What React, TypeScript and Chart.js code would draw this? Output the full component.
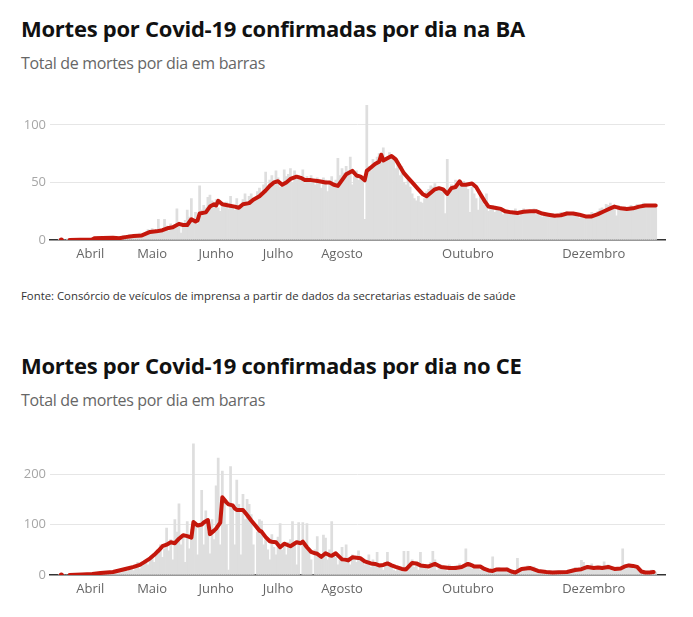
import { useEffect, useRef } from 'react'
import { Chart, registerables, ChartConfiguration } from 'chart.js'

Chart.register(...registerables)

// day index 0 = 27/03/2020, one category per day
const TOTAL_DAYS = 298
const FIRST_BAR_DAY = 4

const monthTickDays = [19, 49, 80, 110, 141, 202, 263]
const monthTickLabels = ['Abril', 'Maio', 'Junho', 'Julho', 'Agosto', 'Outubro', 'Dezembro']

// Bahia: daily deaths from day 4
const baDeaths = [
  1, 0, 0, 0, 1, 0,
  0, 1, 0, 1, 0, 0, 1, 0, 1, 1,
  2, 1, 2, 3, 1, 2, 2, 1, 3, 2,
  2, 3, 1, 2, 1, 4, 3, 2, 5, 4,
  3, 5, 4, 6, 5, 3, 7, 9, 8, 10,
  6, 9, 18, 8, 7, 18, 12, 8, 14, 10,
  13, 27, 15, 6, 12, 17, 26, 20, 36, 18,
  24, 14, 47, 26, 30, 28, 37, 39, 34, 30,
  35, 28, 25, 29, 30, 33, 27, 38, 30, 26,
  36, 28, 31, 35, 40, 33, 38, 40, 36, 34,
  42, 45, 40, 48, 59, 44, 52, 56, 48, 60,
  54, 46, 50, 61, 55, 57, 62, 50, 60, 53,
  56, 52, 61, 49, 55, 50, 56, 52, 48, 54,
  50, 45, 54, 52, 42, 50, 55, 46, 52, 71,
  56, 62, 58, 64, 60, 72, 48, 55, 60, 52,
  56, 52, 18, 117, 64, 60, 70, 66, 72, 75,
  73, 80, 68, 72, 76, 70, 72, 62, 68, 56,
  64, 50, 48, 52, 46, 40, 36, 34, 38, 33,
  32, 36, 42, 44, 47, 46, 49, 44, 46, 42,
  44, 23, 70, 42, 48, 46, 52, 48, 50, 47,
  51, 48, 44, 24, 46, 40, 36, 26, 38, 34,
  30, 40, 25, 28, 30, 24, 26, 28, 25, 22,
  24, 26, 23, 22, 25, 27, 24, 21, 23, 27,
  26, 24, 25, 23, 27, 22, 24, 21, 20, 23,
  22, 21, 20, 23, 22, 19, 21, 24, 22, 23,
  25, 22, 21, 23, 24, 20, 19, 22, 20, 21,
  19, 22, 24, 23, 22, 25, 27, 28, 26, 31,
  30, 32, 28, 29, 21, 30, 28, 26, 29, 27,
  28, 30, 27, 29, 31, 30, 28, 32, 30, 29,
  31, 30, 29, 30,
]

// Bahia: moving average, read at these days
const baAvgDays = [
  5, 6, 9, 14, 20, 21, 25, 30, 33, 36, 40, 44, 46, 48, 51, 54, 57, 59, 62, 64,
  66, 68, 70, 71, 72, 75, 77, 79, 80, 81, 83, 86, 89, 91, 93, 96, 98, 101, 104, 106,
  108, 110, 112, 114, 116, 119, 121, 123, 126, 130, 133, 135, 137, 139, 141, 143, 146, 148, 150, 152,
  153, 155, 157, 159, 160, 161, 163, 165, 167, 169, 171, 173, 175, 178, 180, 182, 184, 186, 188, 190,
  192, 194, 196, 198, 199, 201, 204, 206, 208, 210, 212, 215, 218, 220, 223, 226, 229, 232, 235, 238,
  241, 244, 247, 250, 253, 256, 259, 262, 265, 268, 271, 273, 276, 279, 282, 285, 288, 291, 293,
]
const baAvgValues = [
  0, null, 0, 0.3, 0.5, 1.5, 1.8, 2, 1.5, 2.5, 3.5, 4, 5.5, 7, 7.5, 8.5, 10.5, 11, 14, 13,
  13, 18, 16, 17, 23, 24, 29, 31, 30, 34, 31, 30, 29, 28, 31, 32, 35, 38, 43, 47,
  50, 51, 48, 50, 53, 55, 54, 52, 52, 51, 50, 50, 48, 47, 52, 57, 60, 56, 55, 52,
  60, 63, 66, 68, 74, 69, 71, 73, 70, 64, 58, 54, 50, 44, 40, 38, 41, 44, 45, 44,
  40, 45, 46, 51, 48, 48, 49, 46, 40, 34, 29, 28, 27, 25, 24, 23.5, 24.5, 25, 25, 23,
  22, 21, 21.5, 23, 23, 22, 20.5, 20.5, 22.5, 25, 27.5, 29, 27.5, 27, 27.5, 29, 30, 30, 30,
]

// Ceará: daily deaths from day 4
const ceDeaths = [
  1, 0, 0, 0, 0, 1,
  0, 1, 0, 2, 1, 0, 1, 2, 3, 2,
  4, 2, 3, 5, 2, 4, 6, 3, 5, 7,
  4, 8, 6, 10, 5, 9, 12, 7, 11, 14,
  9, 15, 25, 12, 18, 22, 28, 20, 30, 38,
  25, 45, 42, 60, 35, 52, 93, 48, 70, 30,
  110, 85, 141, 60, 78, 25, 106, 52, 90, 260,
  105, 40, 95, 168, 60, 127, 85, 42, 110, 70,
  177, 232, 60, 206, 150, 100, 10, 215, 130, 60,
  188, 140, 40, 160, 110, 150, 140, 120, 60, 0,
  85, 110, 107, 60, 70, 50, 30, 80, 55, 40,
  75, 102, 50, 60, 40, 65, 70, 106, 60, 20,
  104, 0, 104, 60, 102, 45, 30, 0, 50, 76,
  40, 35, 79, 73, 30, 50, 106, 40, 35, 20,
  30, 55, 25, 60, 35, 20, 40, 30, 25, 48,
  35, 30, 20, 25, 40, 15, 30, 20, 45, 15,
  20, 10, 25, 45, 15, 20, 10, 8, 15, 12,
  10, 47, 5, 47, 20, 30, 15, 25, 10, 45,
  15, 20, 12, 10, 25, 47, 30, 10, 15, 20,
  12, 15, 8, 20, 10, 12, 18, 10, 22, 15,
  20, 52, 18, 25, 12, 20, 15, 18, 10, 12,
  8, 10, 5, 12, 36, 6, 10, 15, 8, 12,
  10, 15, 6, 5, 8, 2, 33, 10, 12, 15,
  14, 18, 12, 10, 16, 8, 5, 8, 6, 4,
  5, 8, 6, 4, 7, 5, 8, 6, 5, 8,
  6, 5, 10, 12, 15, 10, 12, 29, 25, 14,
  18, 15, 22, 14, 16, 12, 18, 10, 26, 14,
  20, 16, 12, 10, 14, 12, 15, 52, 18, 20,
  22, 16, 20, 15, 18, 8, 6, 5, 4, 6,
  3, 10, 5, 6,
]

// Ceará: moving average, read at these days
const ceAvgDays = [
  5, 6, 9, 15, 20, 24, 27, 30, 33, 35, 38, 40, 43, 45, 48, 50, 52, 54, 56, 58,
  60, 62, 64, 66, 68, 69, 71, 73, 74, 76, 77, 79, 80, 82, 83, 85, 86, 88, 89, 90,
  93, 95, 97, 99, 101, 102, 104, 106, 107, 109, 111, 113, 116, 119, 121, 122, 124, 126, 128, 129,
  131, 133, 135, 136, 138, 141, 143, 144, 146, 148, 150, 152, 155, 157, 159, 161, 163, 165, 167, 170,
  172, 175, 177, 179, 181, 183, 186, 189, 191, 193, 196, 199, 202, 204, 205, 208, 210, 212, 214, 216,
  219, 221, 223, 225, 228, 230, 232, 234, 236, 238, 240, 243, 246, 250, 252, 254, 257, 260, 263, 265,
  267, 270, 273, 276, 278, 280, 282, 284, 286, 288, 290, 292,
]
const ceAvgValues = [
  0, null, 0, 1, 2, 4, 5, 6, 9, 11, 14, 16, 20, 25, 33, 40, 48, 57, 60, 65,
  63, 72, 79, 77, 74, 105, 98, 100, 104, 109, 81, 88, 92, 104, 154, 144, 140, 138, 132, 129,
  129, 119, 108, 98, 88, 86, 75, 67, 66, 65, 55, 62, 57, 65, 63, 66, 55, 46, 43, 42,
  36, 43, 39, 38, 43, 31, 30, 29, 35, 34, 33, 27, 23, 22, 19, 20, 23, 19, 16, 12,
  11, 24, 23, 19, 18, 17, 22, 16, 15, 14, 14, 16, 22, 19, 17, 17, 12, 9, 8, 11,
  11, 11, 7, 5, 12, 13, 14, 11, 8, 7, 6, 5, 5.5, 6, 8, 10, 11.5, 16, 14, 15,
  14, 16, 12, 13, 17, 19, 18, 16, 7, 5, 5, 6,
]

const RED = '#c4170c'

function buildConfig(
  deaths: number[],
  avgDays: number[],
  avgValues: (number | null)[],
  yMax: number,
  yTicks: number[],
  padTop: number
): ChartConfiguration {
  return {
    type: 'bar',
    data: {
      datasets: [
        {
          type: 'line',
          data: avgDays.map((d, i) => ({ x: d, y: avgValues[i] })),
          borderColor: RED,
          backgroundColor: RED,
          borderWidth: 4,
          borderCapStyle: 'round',
          borderJoinStyle: 'round',
          pointRadius: (ctx: any) => (ctx.dataIndex === 0 ? 2.5 : 0),
          pointBorderWidth: 0,
          spanGaps: false,
          order: 0,
        } as any,
        {
          type: 'bar',
          data: deaths.map((v, i) => ({ x: i + FIRST_BAR_DAY, y: v })),
          backgroundColor: '#dedede',
          barPercentage: 1,
          categoryPercentage: 1,
          order: 1,
        },
      ],
    },
    options: {
      animation: false,
      responsive: true,
      maintainAspectRatio: false,
      layout: { padding: { left: 8, right: 28, top: padTop, bottom: 0 } },
      plugins: { legend: { display: false }, tooltip: { enabled: false } },
      scales: {
        x: {
          type: 'linear',
          min: -0.5,
          max: TOTAL_DAYS - 0.5,
          offset: false,
          afterBuildTicks: (scale: any) => {
            scale.ticks = monthTickDays.map((d) => ({ value: d }))
          },
          afterFit: (scale: any) => {
            scale.height = 30
          },
          ticks: {
            autoSkip: false,
            maxRotation: 0,
            padding: 6,
            color: '#666',
            font: { family: 'Open Sans', size: 13 },
            callback: (value: any) => {
              const i = monthTickDays.indexOf(Number(value))
              return i >= 0 ? monthTickLabels[i] : ''
            },
          },
          grid: { display: true, drawOnChartArea: false, drawTicks: false, color: 'transparent' },
          border: { display: true, color: '#333', width: 1.5 },
        },
        y: {
          type: 'linear',
          min: 0,
          max: yMax,
          afterBuildTicks: (scale: any) => {
            scale.ticks = yTicks.map((v) => ({ value: v }))
          },
          afterFit: (scale: any) => {
            scale.width = 42
          },
          ticks: {
            padding: 4,
            color: '#a6a6a6',
            font: { family: 'Open Sans', size: 13 },
          },
          grid: {
            drawTicks: false,
            color: (ctx: any) => (ctx.tick && ctx.tick.value === 0 ? 'transparent' : '#e6e6e6'),
            lineWidth: 1,
          },
          border: { display: false },
        },
      },
    },
  }
}

function DeathsChart({ config, top, height }: { config: ChartConfiguration; top: number; height: number }) {
  const canvasRef = useRef<HTMLCanvasElement>(null)

  useEffect(() => {
    if (!canvasRef.current) return
    const chart = new Chart(canvasRef.current, config)
    return () => chart.destroy()
  }, [config])

  return (
    <div style={{ position: 'absolute', left: 0, top, width: 693, height }}>
      <canvas ref={canvasRef}></canvas>
    </div>
  )
}

const titleStyle: React.CSSProperties = {
  position: 'absolute',
  left: 21,
  margin: 0,
  fontFamily: 'Open Sans',
  fontWeight: 700,
  fontSize: 22,
  lineHeight: '26px',
  letterSpacing: -0.25,
  color: '#111',
  whiteSpace: 'nowrap',
}

const subtitleStyle: React.CSSProperties = {
  position: 'absolute',
  left: 21,
  fontFamily: 'Open Sans',
  fontSize: 16,
  lineHeight: '20px',
  letterSpacing: -0.33,
  color: '#666',
  whiteSpace: 'nowrap',
}

const baConfig = buildConfig(baDeaths, baAvgDays, baAvgValues, 120, [0, 50, 100], 8.4)
const ceConfig = buildConfig(ceDeaths, ceAvgDays, ceAvgValues, 270, [0, 100, 200], 7.6)

export default function App() {
  return (
    <div style={{ position: 'absolute', left: 0, top: 0, width: 693, height: 617, background: '#fff' }}>
      <div style={{ ...titleStyle, top: 15 }}>Mortes por Covid-19 confirmadas por dia na BA</div>
      <div style={{ ...subtitleStyle, top: 52.5 }}>Total de mortes por dia em barras</div>
      <DeathsChart config={baConfig} top={90} height={180} />
      <div
        style={{
          position: 'absolute',
          left: 21,
          top: 288,
          fontFamily: 'Open Sans',
          fontSize: 11.35,
          lineHeight: '16px',
          color: '#333',
          whiteSpace: 'nowrap',
        }}
      >
        Fonte: Consórcio de veículos de imprensa a partir de dados da secretarias estaduais de saúde
      </div>
      <div style={{ ...titleStyle, top: 352 }}>Mortes por Covid-19 confirmadas por dia no CE</div>
      <div style={{ ...subtitleStyle, top: 389.5 }}>Total de mortes por dia em barras</div>
      <DeathsChart config={ceConfig} top={427} height={178} />
    </div>
  )
}
